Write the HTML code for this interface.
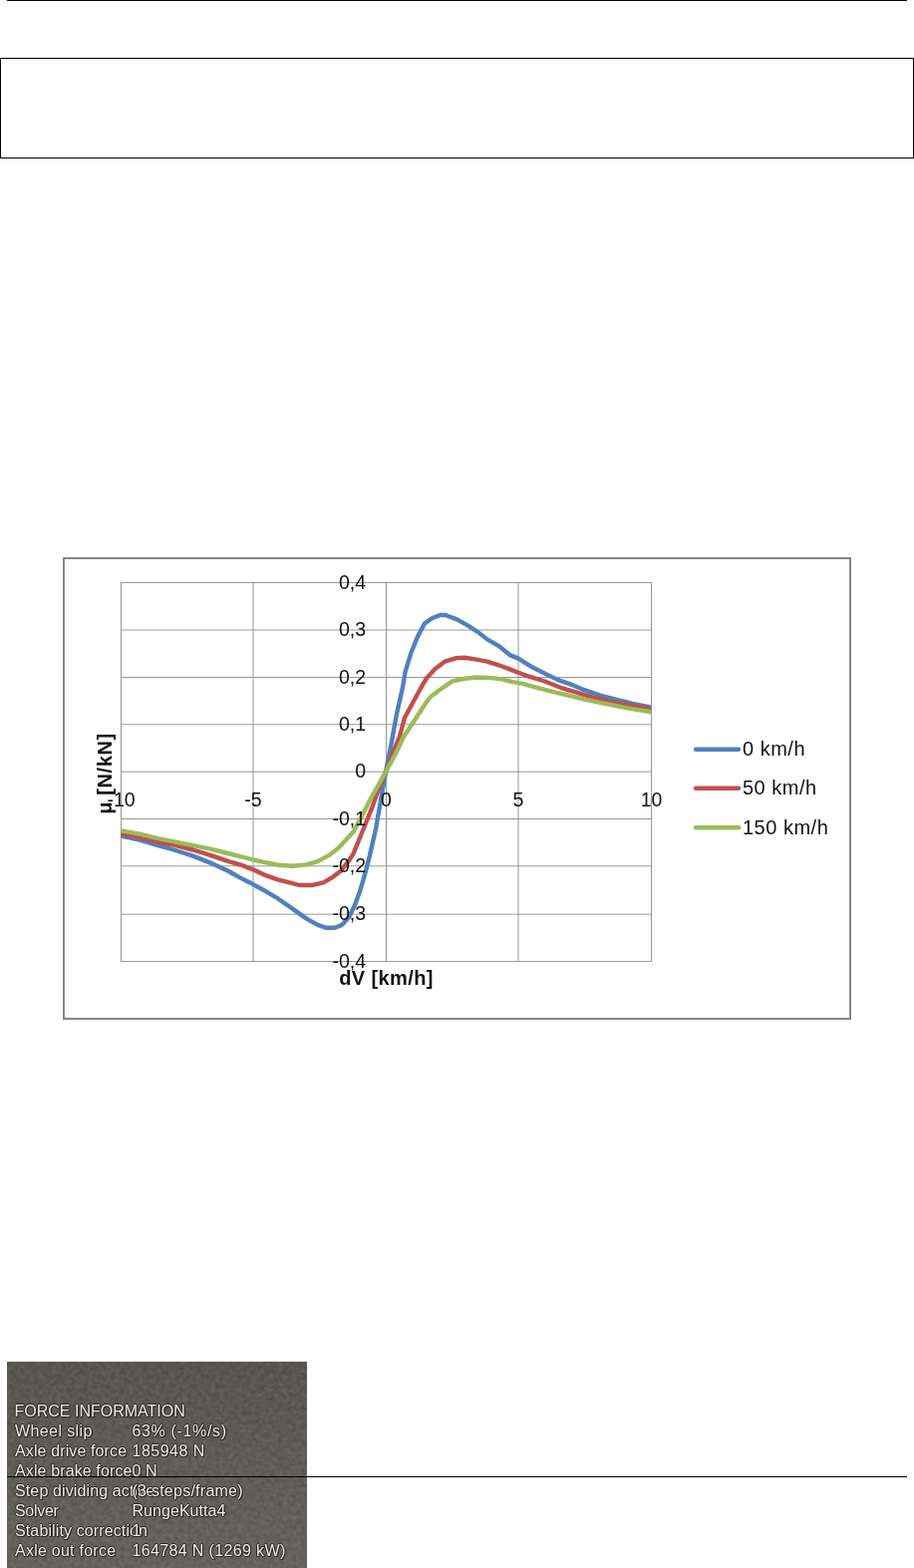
<!DOCTYPE html>
<html><head><meta charset="utf-8">
<style>
html,body{margin:0;padding:0;background:#fff;}
body{width:917px;height:1573px;position:relative;overflow:hidden;font-family:"Liberation Sans",Arial,sans-serif;}
.abs{position:absolute;}
#topline{left:7px;top:0;width:903px;height:1px;background:#000;}
#box{left:0;top:58px;width:917px;height:101px;box-sizing:border-box;border:1px solid #000;}
#midline{left:7px;top:1481px;width:903px;height:1px;background:#000;z-index:5;}
#shot{left:7px;top:1366px;width:301px;height:207px;background:#5d5a56;overflow:hidden;}
#shot svg{position:absolute;left:0;top:0;}
.tl{position:absolute;left:8px;font-size:16px;line-height:20px;color:#ececec;white-space:nowrap;letter-spacing:0.12px;
text-shadow:-1px 0 0 #2a2826,1px 0 0 #2a2826,0 -1px 0 #2a2826,0 1px 0 #2a2826,1px 1px 0 #2a2826;}
.tv{left:125.5px;}
</style></head><body>
<div id="topline" class="abs"></div>
<div id="box" class="abs"></div>
<svg class="abs" style="left:0;top:0" width="917" height="1573" viewBox="0 0 917 1573">
<rect x="64" y="560" width="789" height="462" fill="#fff" stroke="#868686" stroke-width="2"/>
<g stroke="#979797" stroke-width="1" fill="none">
<line x1="121" y1="584.50" x2="654" y2="584.50"/><line x1="121" y1="632.00" x2="654" y2="632.00"/><line x1="121" y1="679.50" x2="654" y2="679.50"/><line x1="121" y1="726.80" x2="654" y2="726.80"/><line x1="121" y1="774.20" x2="654" y2="774.20"/><line x1="121" y1="821.50" x2="654" y2="821.50"/><line x1="121" y1="868.80" x2="654" y2="868.80"/><line x1="121" y1="917.20" x2="654" y2="917.20"/><line x1="121" y1="964.50" x2="654" y2="964.50"/><line x1="121.50" y1="584" x2="121.50" y2="965"/><line x1="254.00" y1="584" x2="254.00" y2="965"/><line x1="387.50" y1="584" x2="387.50" y2="965"/><line x1="520.00" y1="584" x2="520.00" y2="965"/><line x1="653.50" y1="584" x2="653.50" y2="965"/>
</g>
<defs><clipPath id="pc"><rect x="121.5" y="560" width="532" height="460"/></clipPath></defs>
<g fill="none" stroke-width="4.4" stroke-linejoin="round" stroke-linecap="round" clip-path="url(#pc)">
<polyline stroke="#4F81BD" points="121.5,838.6 141.2,842.9 158.6,848.2 174.3,852.5 193.5,858.6 211.0,865.6 228.4,873.5 240.6,880.4 252.8,886.5 265.0,893.2 279.2,901.7 293.4,911.6 307.5,921.6 318.9,927.9 327.4,930.8 335.9,930.8 343.0,927.9 350.1,920.1 355.7,908.8 361.4,893.2 367.1,873.4 371.0,858.0 377.1,831.3 382.3,801.2 387.6,771.1 392.8,745.0 398.0,716.2 403.9,690.0 406.6,673.8 411.9,656.3 418.9,638.9 425.8,625.8 432.8,620.5 441.6,617.0 446.8,617.0 459.0,621.6 469.5,627.6 480.0,634.4 488.8,641.4 501.0,648.4 511.5,657.1 520.2,660.6 534.0,669.3 546.6,675.6 559.3,681.9 575.1,687.4 586.2,692.2 602.0,697.7 617.8,701.7 633.6,705.6 653.7,709.6"/>
<polyline stroke="#C0504D" points="121.5,836.8 141.2,840.3 158.6,844.7 176.1,848.2 193.5,852.5 211.0,857.8 228.4,863.9 240.6,867.3 254.6,872.6 265.0,877.6 279.2,882.6 293.4,886.1 300.4,888.0 313.2,888.0 324.5,885.4 333.0,880.4 341.6,874.1 350.1,863.4 354.5,856.5 365.3,830.0 373.2,810.4 379.7,792.1 387.2,773.7 394.1,755.4 400.7,739.7 405.9,720.1 413.7,705.7 422.3,690.0 427.6,680.8 436.3,671.2 446.8,663.3 457.3,660.3 466.0,659.8 478.2,661.6 488.7,663.6 499.1,666.8 509.6,670.6 520.2,674.8 530.8,678.7 546.6,683.5 562.4,689.8 578.3,694.6 594.1,699.3 609.9,703.3 625.7,706.4 653.7,711.2"/>
<polyline stroke="#9BBB59" points="121.5,833.3 141.2,836.8 158.6,841.2 176.1,844.7 193.5,848.2 211.0,851.6 228.4,856.0 245.9,860.4 263.3,864.7 279.2,867.7 293.4,868.8 307.5,867.4 318.9,864.1 329.4,858.4 339.6,850.8 354.9,833.9 365.3,814.3 371.9,801.2 377.1,792.1 387.2,773.7 396.7,756.7 404.6,739.7 415.0,724.0 426.8,705.7 432.0,699.0 440.5,692.5 453.8,683.4 466.0,680.8 478.2,679.5 490.4,679.9 502.6,681.1 513.1,683.9 524.5,685.9 538.7,689.8 554.5,693.8 570.3,697.7 586.2,701.7 602.0,704.8 617.8,708.0 633.6,711.2 653.7,714.3"/>
</g>
<g font-family="Liberation Sans, Arial, sans-serif" font-size="19.5" fill="#111">
<text x="367" y="590.5" text-anchor="end">0,4</text><text x="367" y="638.0" text-anchor="end">0,3</text><text x="367" y="685.5" text-anchor="end">0,2</text><text x="367" y="732.8" text-anchor="end">0,1</text><text x="367" y="780.2" text-anchor="end">0</text><text x="367" y="827.5" text-anchor="end">-0,1</text><text x="367" y="874.8" text-anchor="end">-0,2</text><text x="367" y="923.2" text-anchor="end">-0,3</text><text x="367" y="970.5" text-anchor="end">-0,4</text>
<text x="121.5" y="809.3" text-anchor="middle">-10</text><text x="254.0" y="809.3" text-anchor="middle">-5</text><text x="387.5" y="809.3" text-anchor="middle">0</text><text x="520.0" y="809.3" text-anchor="middle">5</text><text x="653.5" y="809.3" text-anchor="middle">10</text>
</g>
<g font-family="Liberation Sans, Arial, sans-serif" font-size="20" font-weight="bold" fill="#111">
<text x="387.5" y="987.6" text-anchor="middle" letter-spacing="0.4">dV [km/h]</text>
<text transform="translate(112.4,776) rotate(-90)" text-anchor="middle" letter-spacing="0.6">μ [N/kN]</text>
</g>
<g stroke-width="4.4" stroke-linecap="round">
<line x1="698" y1="751.7" x2="741" y2="751.7" stroke="#4F81BD"/>
<line x1="698" y1="790.8" x2="741" y2="790.8" stroke="#C0504D"/>
<line x1="698" y1="830.3" x2="741" y2="830.3" stroke="#9BBB59"/>
</g>
<g font-family="Liberation Sans, Arial, sans-serif" font-size="20" letter-spacing="0.5" fill="#111">
<text x="745" y="757.8">0 km/h</text>
<text x="745" y="797.2">50 km/h</text>
<text x="745" y="836.6">150 km/h</text>
</g>
</svg>
<div id="shot" class="abs">
<svg width="301" height="207"><defs><filter id="n" x="0" y="0" width="100%" height="100%" color-interpolation-filters="sRGB"><feTurbulence type="fractalNoise" baseFrequency="0.22" numOctaves="4" seed="7"/><feColorMatrix type="matrix" values="0.13 0 0 0 0.300  0.13 0 0 0 0.289  0.13 0 0 0 0.272  0 0 0 0 1"/></filter><linearGradient id="g" x1="0" y1="0" x2="0" y2="1"><stop offset="0" stop-color="#000" stop-opacity="0.06"/><stop offset="1" stop-color="#fff" stop-opacity="0.05"/></linearGradient></defs><rect width="301" height="207" filter="url(#n)"/><rect width="301" height="207" fill="url(#g)"/></svg>
<div class="tl" style="top:40px;left:7.5px;letter-spacing:0">FORCE INFORMATION</div>
<div class="tl" style="top:60px;letter-spacing:0.4px">Wheel slip</div><div class="tl tv" style="top:60px;letter-spacing:0.65px">63% (-1%/s)</div>
<div class="tl" style="top:80px">Axle drive force</div><div class="tl tv" style="top:80px;letter-spacing:0.5px">185948 N</div>
<div class="tl" style="top:100px">Axle brake force</div><div class="tl tv" style="top:100px">0 N</div>
<div class="tl" style="top:120px">Step dividing active</div><div class="tl tv" style="top:120px;letter-spacing:0.25px">(3 steps/frame)</div>
<div class="tl" style="top:140px;letter-spacing:-0.3px">Solver</div><div class="tl tv" style="top:140px;letter-spacing:0.05px">RungeKutta4</div>
<div class="tl" style="top:160px">Stability correction</div><div class="tl tv" style="top:160px">1</div>
<div class="tl" style="top:180px;letter-spacing:0.25px">Axle out force</div><div class="tl tv" style="top:180px;letter-spacing:0.36px">164784 N (1269 kW)</div>
</div>
<div id="midline" class="abs"></div>
</body></html>
